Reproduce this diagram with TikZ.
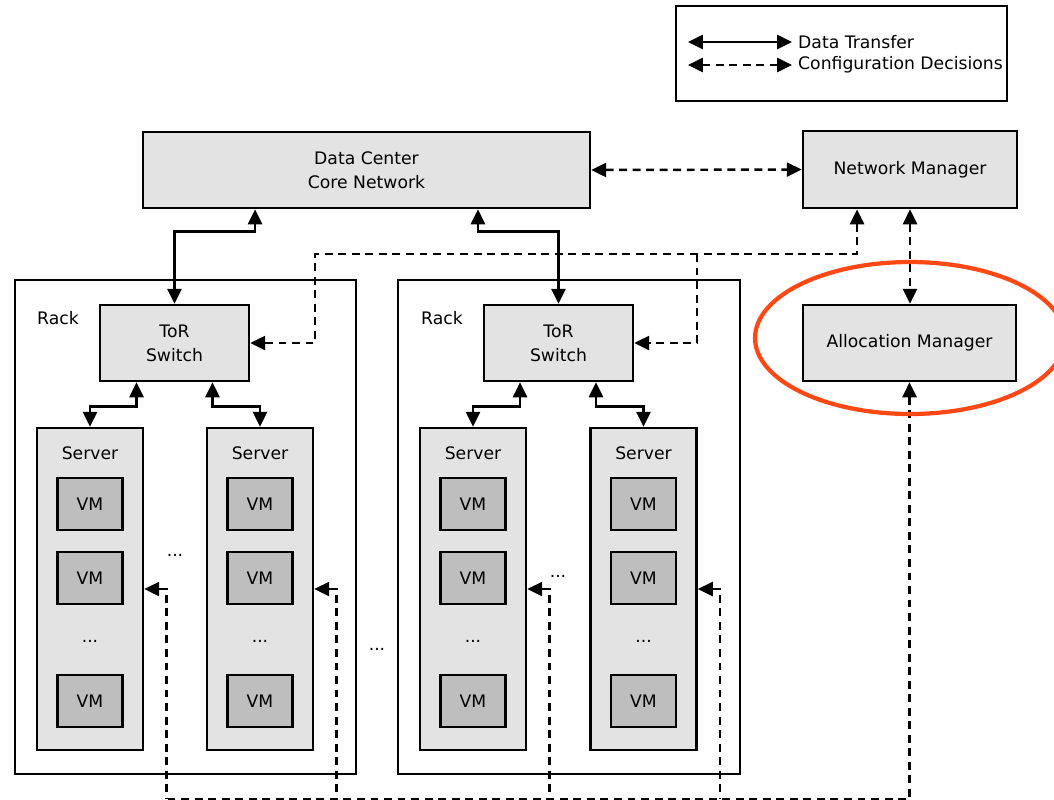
\documentclass[tikz,border=0pt]{standalone}
\usepackage{fontspec}
\setmainfont{DejaVu Sans}
\usetikzlibrary{arrows.meta,positioning}
\definecolor{boxgray}{RGB}{227,227,227}
\definecolor{vmgray}{RGB}{190,190,190}
\definecolor{markred}{RGB}{255,72,20}

\begin{document}
\begin{tikzpicture}[x=0.02cm, y=-0.02cm, >={Triangle[length=8.5pt,width=8pt]},
  every node/.style={font=\fontsize{9.8}{13.6}\selectfont},
  block/.style={draw, line width=1.5pt, fill=boxgray, align=center, inner sep=0pt},
  rack/.style={draw, line width=1.5pt, fill=white, minimum height=9.88cm},
  server/.style={block, minimum width=2.12cm, minimum height=6.44cm},
  vm/.style={draw, line width=1.5pt, fill=vmgray, minimum width=1.3cm, minimum height=1.04cm, inner sep=0pt},
  data/.style={<->, line width=1.4pt},
  cfg/.style={line width=1.4pt, dash pattern=on 4.5pt off 3.2pt}]
\useasboundingbox (0,0) rectangle (1054,799);
% legend
\node[draw, line width=1.5pt, minimum width=6.62cm, minimum height=1.9cm] (legend) at (841.5,53.5) {};
\node[anchor=west] (lgdata) at (792,42) {Data Transfer};
\node[anchor=west] (lgcfg) at (792,65) {Configuration Decisions};
\coordinate (lgd) at (688,42);
\coordinate (lgc) at (688,65);
\draw[data] (lgd) -- (lgdata.west);
\draw[cfg, <->] (lgc) -- (lgcfg.west);
% core and managers
\node[block, minimum width=8.94cm, minimum height=1.52cm] (core) at (366.5,170) {Data Center\\Core Network};
\node[block, minimum width=4.28cm, minimum height=1.54cm] (netmgr) at (910,169.5) {Network Manager};
\node[block, minimum width=4.26cm, minimum height=1.52cm] (allocmgr) at (909.5,343) {Allocation Manager};
% racks
\node[rack, minimum width=6.82cm] (rack1) at (185.5,527) {};
\node[rack, minimum width=6.84cm] (rack2) at (569,527) {};
\node (rlbl1) at (58,318) {Rack};
\node (rlbl2) at (442,318) {Rack};
\node[block, minimum width=2.98cm, minimum height=1.52cm] (tor1) at (174.5,343) {ToR\\Switch};
\node[block, minimum width=2.98cm, minimum height=1.52cm] (tor2) at (558.5,343) {ToR\\Switch};
\foreach \s/\x in {1/90,2/260,3/473,4/643.5}{
  \node[server] (srv\s) at (\x,589) {};
  \node (slbl\s) at (\x,453) {Server};
  \node[vm] (vma\s) at (\x,504) {VM};
  \node[vm] (vmb\s) at (\x,578) {VM};
  \node (vdots\s) at (\x,641) {...};
  \node[vm] (vmc\s) at (\x,701) {VM};
}
\node (sdots1) at (175,555) {...};
\node (sdots2) at (558,576) {...};
\node (rdots) at (377,649) {...};
% data transfer
\draw[data] ([xshift=-2.23cm]core.south) -- ++(0,22) -| (tor1.north);
\draw[data] ([xshift=2.23cm]core.south) -- ++(0,22) -| (tor2.north);
\draw[data] ([xshift=-0.76cm]tor1.south) -- ++(0,24) -| (srv1.north);
\draw[data] ([xshift=0.76cm]tor1.south) -- ++(0,24) -| (srv2.north);
\draw[data] ([xshift=-0.77cm]tor2.south) -- ++(0,24) -| (srv3.north);
\draw[data] ([xshift=0.75cm]tor2.south) -- ++(0,24) -| (srv4.north);
% configuration decisions
\coordinate (cfgL) at (315,254);
\coordinate (cfgR) at (697,254);
\coordinate (bus) at (165,799);
\draw[cfg, <->] (core.east) -- (netmgr.west);
\draw[cfg, <->] (netmgr.south) -- (netmgr.south |- allocmgr.north);
\draw[cfg, <->] ([xshift=-1.06cm]netmgr.south) |- (cfgL) |- (tor1.east);
\draw[cfg, ->] (cfgR) |- (tor2.east);
\draw[cfg, <-] (allocmgr.south) |- (bus);
\foreach \s in {1,...,4}{\draw[cfg, <-] (srv\s.east) -- ++(22,0) -- ++(0,210);}
% highlight
\draw[markred, line width=2.4pt] (910,338) ellipse [x radius=3.1cm, y radius=1.52cm];
\end{tikzpicture}
\end{document}
